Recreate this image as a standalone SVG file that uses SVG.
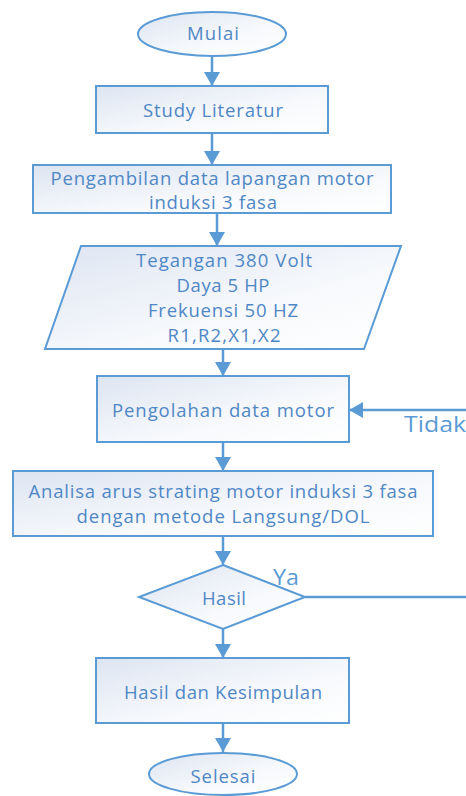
<svg xmlns="http://www.w3.org/2000/svg" width="466" height="796" viewBox="0 0 466 796">
  <defs>
    <linearGradient id="fillGrad" x1="0" y1="0" x2="1" y2="1">
      <stop offset="0" stop-color="#DDE5F2"/>
      <stop offset="0.6" stop-color="#F7F9FC"/>
      <stop offset="1" stop-color="#FFFFFF"/>
    </linearGradient>
    <marker id="arrow" markerUnits="userSpaceOnUse" markerWidth="16" markerHeight="16" refX="14" refY="8" orient="auto">
      <path d="M0,0 L14,8 L0,16 Z" fill="#5B9BD5"/>
    </marker>
  </defs>
  <style>
    .shape { fill: url(#fillGrad); stroke: #5B9BD5; stroke-width: 2; }
    .label { font-family: "Open Sans", "Liberation Sans", Arial, sans-serif; font-size: 18.5px; fill: #4F87C6; text-anchor: middle; }
    .big { font-size: 22px; fill: #5B9BD5; }
    .conn { fill: none; stroke: #5B9BD5; stroke-width: 2.5; }
  </style>
  <rect width="466" height="796" fill="#FFFFFF"/>

  <g id="connectors">
    <line class="conn" x1="212" y1="56" x2="212" y2="86" marker-end="url(#arrow)"/>
    <line class="conn" x1="212" y1="133" x2="212" y2="165" marker-end="url(#arrow)"/>
    <line class="conn" x1="217" y1="213" x2="217" y2="246" marker-end="url(#arrow)"/>
    <line class="conn" x1="223" y1="349" x2="223" y2="376" marker-end="url(#arrow)"/>
    <line class="conn" x1="223" y1="442" x2="223" y2="471" marker-end="url(#arrow)"/>
    <line class="conn" x1="223" y1="536" x2="223" y2="565" marker-end="url(#arrow)"/>
    <line class="conn" x1="223" y1="629" x2="223" y2="658" marker-end="url(#arrow)"/>
    <line class="conn" x1="223" y1="723" x2="223" y2="752" marker-end="url(#arrow)"/>
    <!-- loop back from decision into processing step -->
    <line class="conn" x1="305" y1="597" x2="466" y2="597"/>
    <line class="conn" x1="466" y1="410" x2="349" y2="410" marker-end="url(#arrow)"/>
    <text class="label big" x="435" y="432" textLength="62" lengthAdjust="spacingAndGlyphs">Tidak</text>
    <text class="label big" x="286" y="585" textLength="26" lengthAdjust="spacingAndGlyphs">Ya</text>
  </g>

  <g id="mulai">
    <ellipse class="shape" cx="212" cy="34" rx="74" ry="22"/>
    <text class="label" x="213" y="40" textLength="52" lengthAdjust="spacing">Mulai</text>
  </g>

  <g id="study-literatur">
    <rect class="shape" x="96" y="86" width="232" height="47"/>
    <text class="label" x="213" y="117" textLength="140" lengthAdjust="spacing">Study Literatur</text>
  </g>

  <g id="pengambilan-data">
    <rect class="shape" x="33" y="165" width="358" height="48"/>
    <text class="label" x="212" y="185" textLength="323" lengthAdjust="spacing">Pengambilan data lapangan motor</text>
    <text class="label" x="213" y="209" textLength="128" lengthAdjust="spacing">induksi 3 fasa</text>
  </g>

  <g id="data-motor">
    <polygon class="shape" points="81,246 401,246 364,349 45,349"/>
    <text class="label" x="224" y="267" textLength="176" lengthAdjust="spacing">Tegangan 380 Volt</text>
    <text class="label" x="223" y="292" textLength="93" lengthAdjust="spacing">Daya 5 HP</text>
    <text class="label" x="223" y="317" textLength="150" lengthAdjust="spacing">Frekuensi 50 HZ</text>
    <text class="label" x="224" y="342" textLength="113" lengthAdjust="spacing">R1,R2,X1,X2</text>
  </g>

  <g id="pengolahan-data">
    <rect class="shape" x="97" y="376" width="252" height="66"/>
    <text class="label" x="223" y="417" textLength="222" lengthAdjust="spacing">Pengolahan data motor</text>
  </g>

  <g id="analisa-arus">
    <rect class="shape" x="13" y="471" width="420" height="65"/>
    <text class="label" x="223" y="498" textLength="389" lengthAdjust="spacing">Analisa arus strating motor induksi 3 fasa</text>
    <text class="label" x="223" y="523" textLength="293" lengthAdjust="spacing">dengan metode Langsung/DOL</text>
  </g>

  <g id="hasil-decision">
    <polygon class="shape" points="223,565 305,597 223,629 139,597"/>
    <text class="label" x="224" y="605" textLength="44" lengthAdjust="spacing">Hasil</text>
  </g>

  <g id="hasil-kesimpulan">
    <rect class="shape" x="96" y="658" width="253" height="65"/>
    <text class="label" x="223" y="699" textLength="198" lengthAdjust="spacing">Hasil dan Kesimpulan</text>
  </g>

  <g id="selesai">
    <ellipse class="shape" cx="223" cy="774" rx="74" ry="21"/>
    <text class="label" x="223" y="783" textLength="65" lengthAdjust="spacing">Selesai</text>
  </g>
</svg>
